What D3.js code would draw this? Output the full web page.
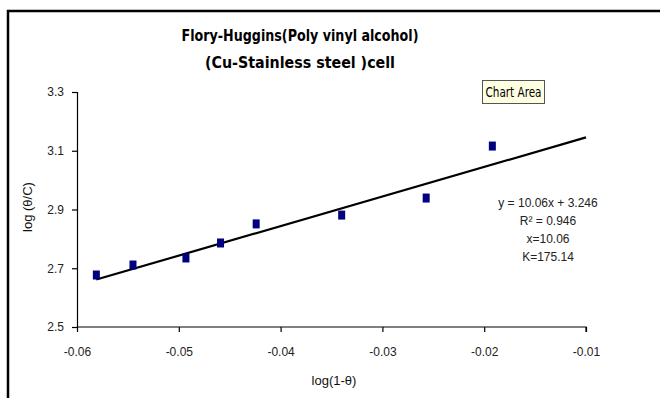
<!DOCTYPE html>
<html>
<head>
<meta charset="utf-8">
<script src="https://cdn.jsdelivr.net/npm/d3@7"></script>
<style>
  html, body { margin: 0; padding: 0; background: #fff; }
  svg { display: block; }
</style>
</head>
<body>
<svg id="chart" width="660" height="398"></svg>
<script>
// Flory-Huggins isotherm data: log(1-θ) against log(θ/C)
const logOneMinusTheta = [-0.0581, -0.0545, -0.0493, -0.0459, -0.0424, -0.0340, -0.0257, -0.0192];
const logThetaOverC    = [2.677, 2.711, 2.735, 2.786, 2.851, 2.881, 2.939, 3.116];

// Linear fit reported on the chart
const fitSlope = 10.06;
const fitIntercept = 3.246;
const fitLabels = ["y = 10.06x  + 3.246", "R\u00B2 = 0.946", "x=10.06", "K=175.14"];

const xTicks = [-0.06, -0.05, -0.04, -0.03, -0.02, -0.01];
const yTicks = [2.5, 2.7, 2.9, 3.1, 3.3];

const titleLines = ["Flory-Huggins(Poly vinyl alcohol)", "(Cu-Stainless steel )cell"];
const xTitle = "log(1-\u03B8)";
const yTitle = "log (\u03B8/C)";

const svg = d3.select("#chart");

// Chart area frame (top and left edges visible)
svg.append("path")
  .attr("d", "M8,398 L8,11 L660,11")
  .attr("fill", "none")
  .attr("stroke", "#000")
  .attr("stroke-width", 2.5);

const x = d3.scaleLinear().domain([-0.06, -0.01]).range([77, 586]);
const y = d3.scaleLinear().domain([2.5, 3.3]).range([327, 92]);

const tickFont = "'Liberation Sans', Arial, sans-serif";
// plain hyphen for negatives, as in spreadsheet output
const fmtX = d => d.toFixed(2);
const fmtY = d => d.toFixed(1);

// Y axis
const yAxis = svg.append("g")
  .attr("transform", `translate(${x.range()[0]},0)`)
  .call(d3.axisLeft(y).tickValues(yTicks).tickFormat(fmtY).tickSize(5).tickPadding(8));
// X axis
const xAxis = svg.append("g")
  .attr("transform", `translate(0,${y.range()[0]})`)
  .call(d3.axisBottom(x).tickValues(xTicks).tickFormat(fmtX).tickSize(5).tickPadding(15));

[yAxis, xAxis].forEach(g => {
  g.select(".domain").attr("stroke", "#000").attr("stroke-width", 1.2);
  g.selectAll(".tick line").attr("stroke", "#000").attr("stroke-width", 1.2);
  g.selectAll(".tick text")
    .attr("fill", "#222")
    .style("font-family", tickFont)
    .style("font-size", "12px");
});
xAxis.selectAll(".domain").attr("d", `M${x.range()[0]},0H${x.range()[1]}V5`);

// Trendline over the fitted range, extended forward to the axis end
const xStart = d3.min(logOneMinusTheta);
const xEnd = x.domain()[1];
svg.append("line")
  .attr("x1", x(xStart)).attr("y1", y(fitSlope * xStart + fitIntercept))
  .attr("x2", x(xEnd)).attr("y2", y(fitSlope * xEnd + fitIntercept))
  .attr("stroke", "#000")
  .attr("stroke-width", 2.2);

// Data markers
const mw = 7, mh = 9;
svg.append("g").selectAll("rect")
  .data(logOneMinusTheta.map((v, i) => [v, logThetaOverC[i]]))
  .join("rect")
  .attr("x", d => x(d[0]) - mw / 2)
  .attr("y", d => y(d[1]) - mh / 2)
  .attr("width", mw)
  .attr("height", mh)
  .attr("fill", "#000080");

// Title
const titleFont = "'Liberation Sans Narrow', 'DejaVu Sans Condensed', 'Liberation Sans', sans-serif";
const titleWidths = [237, 190];
svg.append("g").selectAll("text")
  .data(titleLines)
  .join("text")
  .attr("x", 300)
  .attr("y", (d, i) => 41 + i * 27)
  .attr("text-anchor", "middle")
  .attr("textLength", (d, i) => titleWidths[i])
  .attr("lengthAdjust", "spacingAndGlyphs")
  .style("font-family", titleFont)
  .style("font-weight", "bold")
  .style("font-size", "15px")
  .attr("fill", "#000")
  .text(d => d);

// Axis titles
svg.append("text")
  .attr("x", 334)
  .attr("y", 385)
  .attr("text-anchor", "middle")
  .style("font-family", tickFont)
  .style("font-size", "13px")
  .attr("fill", "#111")
  .text(xTitle);

svg.append("text")
  .attr("transform", "translate(32,207) rotate(-90)")
  .attr("text-anchor", "middle")
  .style("font-family", tickFont)
  .style("font-size", "13px")
  .attr("fill", "#111")
  .text(yTitle);

// Fit equation annotation
svg.append("g").selectAll("text")
  .data(fitLabels)
  .join("text")
  .attr("x", 548)
  .attr("y", (d, i) => 207 + i * 18)
  .attr("text-anchor", "middle")
  .style("font-family", tickFont)
  .style("font-size", "12px")
  .attr("fill", "#222")
  .text(d => d);

// "Chart Area" hover label
const tip = svg.append("g");
tip.append("rect")
  .attr("x", 482.5).attr("y", 80.5)
  .attr("width", 62).attr("height", 23)
  .attr("fill", "#FFFFE1")
  .attr("stroke", "#555")
  .attr("stroke-width", 1);
tip.append("text")
  .attr("x", 513.5)
  .attr("y", 97)
  .attr("text-anchor", "middle")
  .attr("textLength", 56)
  .attr("lengthAdjust", "spacingAndGlyphs")
  .style("font-family", titleFont)
  .style("font-size", "14px")
  .attr("fill", "#000")
  .text("Chart Area");
</script>
</body>
</html>
